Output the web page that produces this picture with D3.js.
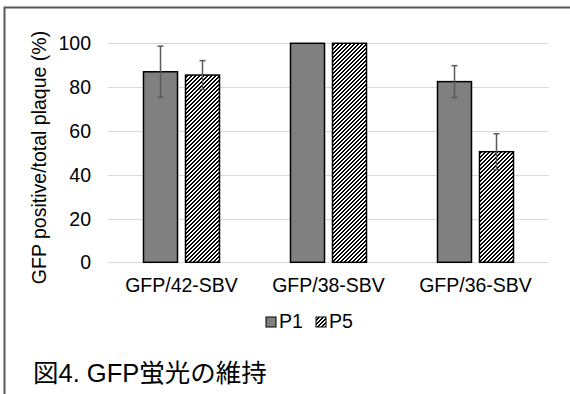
<!DOCTYPE html>
<html lang="ja">
<head>
<meta charset="utf-8">
<title>GFP蛍光の維持</title>
<script src="https://d3js.org/d3.v7.min.js"></script>
<style>
  body { margin: 0; background: #fff; }
  svg text { font-family: "Liberation Sans", Arial, "Noto Sans CJK JP", sans-serif; fill: #000; }
</style>
</head>
<body>
<script>
// data
var categories = ["GFP/42-SBV", "GFP/38-SBV", "GFP/36-SBV"];
var series = ["P1", "P5"];
var p1Values = [87, 100, 82.5];
var p5Values = [85.5, 100, 50.5];
var p1Errors = [11.7, 0, 7.3];
var p5Errors = [6.6, 0, 8.2];
var yTicks = [0, 20, 40, 60, 80, 100];

var w = 570, h = 394;
var fs = 19.5;
var svg = d3.select("body").append("svg")
    .attr("width", w)
    .attr("height", h);

// pixel hatch pattern for P5 (upward diagonal)
var defs = svg.append("defs");
var pat = defs.append("pattern")
    .attr("id", "hatch")
    .attr("patternUnits", "userSpaceOnUse")
    .attr("width", 4).attr("height", 4);
pat.append("rect").attr("width", 4).attr("height", 4).attr("fill", "#fff");
var hatchPx = [[2, 0, 2], [1, 1, 2], [0, 2, 2], [3, 3, 1], [0, 3, 1]];
pat.selectAll("rect.px")
    .data(hatchPx).join("rect")
    .attr("class", "px")
    .attr("x", d => d[0]).attr("y", d => d[1])
    .attr("width", d => d[2]).attr("height", 1)
    .attr("fill", "#000")
    .attr("shape-rendering", "crispEdges");

// frame
svg.append("path")
    .attr("d", "M4.5,394 V7.5 H570")
    .attr("fill", "none")
    .attr("stroke", "#595959")
    .attr("stroke-width", 2);

var x0 = d3.scaleBand().domain(categories).range([108, 549]);
var x1 = d3.scaleBand().domain(series)
    .range([35.5, 111.5])
    .paddingInner(0.1905);
var y = d3.scaleLinear().domain([0, 100]).range([262.3, 43.3]);

// gridlines
svg.append("g").selectAll("line")
    .data(yTicks).join("line")
    .attr("x1", 108).attr("x2", 549)
    .attr("y1", d => Math.round(y(d)) + 0.5)
    .attr("y2", d => Math.round(y(d)) + 0.5)
    .attr("stroke", "#d9d9d9")
    .attr("stroke-width", 1);

// y tick labels
svg.append("g").selectAll("text")
    .data(yTicks).join("text")
    .attr("x", 91)
    .attr("y", d => y(d))
    .attr("dy", "0.36em")
    .attr("text-anchor", "end")
    .attr("font-size", fs)
    .text(d => d);

// y axis title
svg.append("text")
    .attr("transform", "translate(46,157.5) rotate(-90)")
    .attr("text-anchor", "middle")
    .attr("font-size", fs)
    .text("GFP positive/total plaque (%)");

var rows = categories.map((c, i) => ({
  cat: c,
  vals: [
    {s: "P1", v: p1Values[i], e: p1Errors[i]},
    {s: "P5", v: p5Values[i], e: p5Errors[i]}
  ]
}));

var groups = svg.append("g").selectAll("g")
    .data(rows).join("g")
    .attr("transform", d => `translate(${x0(d.cat)},0)`);

groups.selectAll("rect")
    .data(d => d.vals).join("rect")
    .attr("x", d => x1(d.s))
    .attr("width", x1.bandwidth())
    .attr("y", d => y(d.v))
    .attr("height", d => y(0) - y(d.v))
    .attr("fill", d => d.s === "P1" ? "#808080" : "url(#hatch)")
    .attr("stroke", "#000")
    .attr("stroke-width", 1.5);

// error bars
var err = groups.selectAll("g.err")
    .data(d => d.vals.filter(v => v.e > 0)).join("g")
    .attr("class", "err")
    .attr("stroke", "#595959")
    .attr("stroke-width", 1.5);
err.append("line")
    .attr("x1", d => x1(d.s) + x1.bandwidth() / 2)
    .attr("x2", d => x1(d.s) + x1.bandwidth() / 2)
    .attr("y1", d => y(d.v + d.e))
    .attr("y2", d => y(d.v - d.e));
err.append("line")
    .attr("x1", d => x1(d.s) + x1.bandwidth() / 2 - 3)
    .attr("x2", d => x1(d.s) + x1.bandwidth() / 2 + 3)
    .attr("y1", d => y(d.v + d.e))
    .attr("y2", d => y(d.v + d.e));
err.append("line")
    .attr("x1", d => x1(d.s) + x1.bandwidth() / 2 - 3)
    .attr("x2", d => x1(d.s) + x1.bandwidth() / 2 + 3)
    .attr("y1", d => y(d.v - d.e))
    .attr("y2", d => y(d.v - d.e));

// category labels
svg.append("g").selectAll("text")
    .data(categories).join("text")
    .attr("x", d => x0(d) + x0.bandwidth() / 2)
    .attr("y", 292)
    .attr("text-anchor", "middle")
    .attr("font-size", fs)
    .text(d => d);

// legend
var legX = [266, 316];
var leg = svg.append("g").selectAll("g")
    .data(series).join("g")
    .attr("transform", (d, i) => `translate(${legX[i]},317)`);
leg.append("rect")
    .attr("width", 10).attr("height", 10)
    .attr("fill", d => d === "P1" ? "#808080" : "url(#hatch)")
    .attr("stroke", "#000")
    .attr("stroke-width", 1);
leg.append("text")
    .attr("x", 13)
    .attr("y", 10.5)
    .attr("font-size", fs)
    .text(d => d);

// caption
svg.append("text")
    .attr("x", 33)
    .attr("y", 382)
    .attr("font-size", 25.5)
    .text("図4. GFP蛍光の維持");
</script>
</body>
</html>
